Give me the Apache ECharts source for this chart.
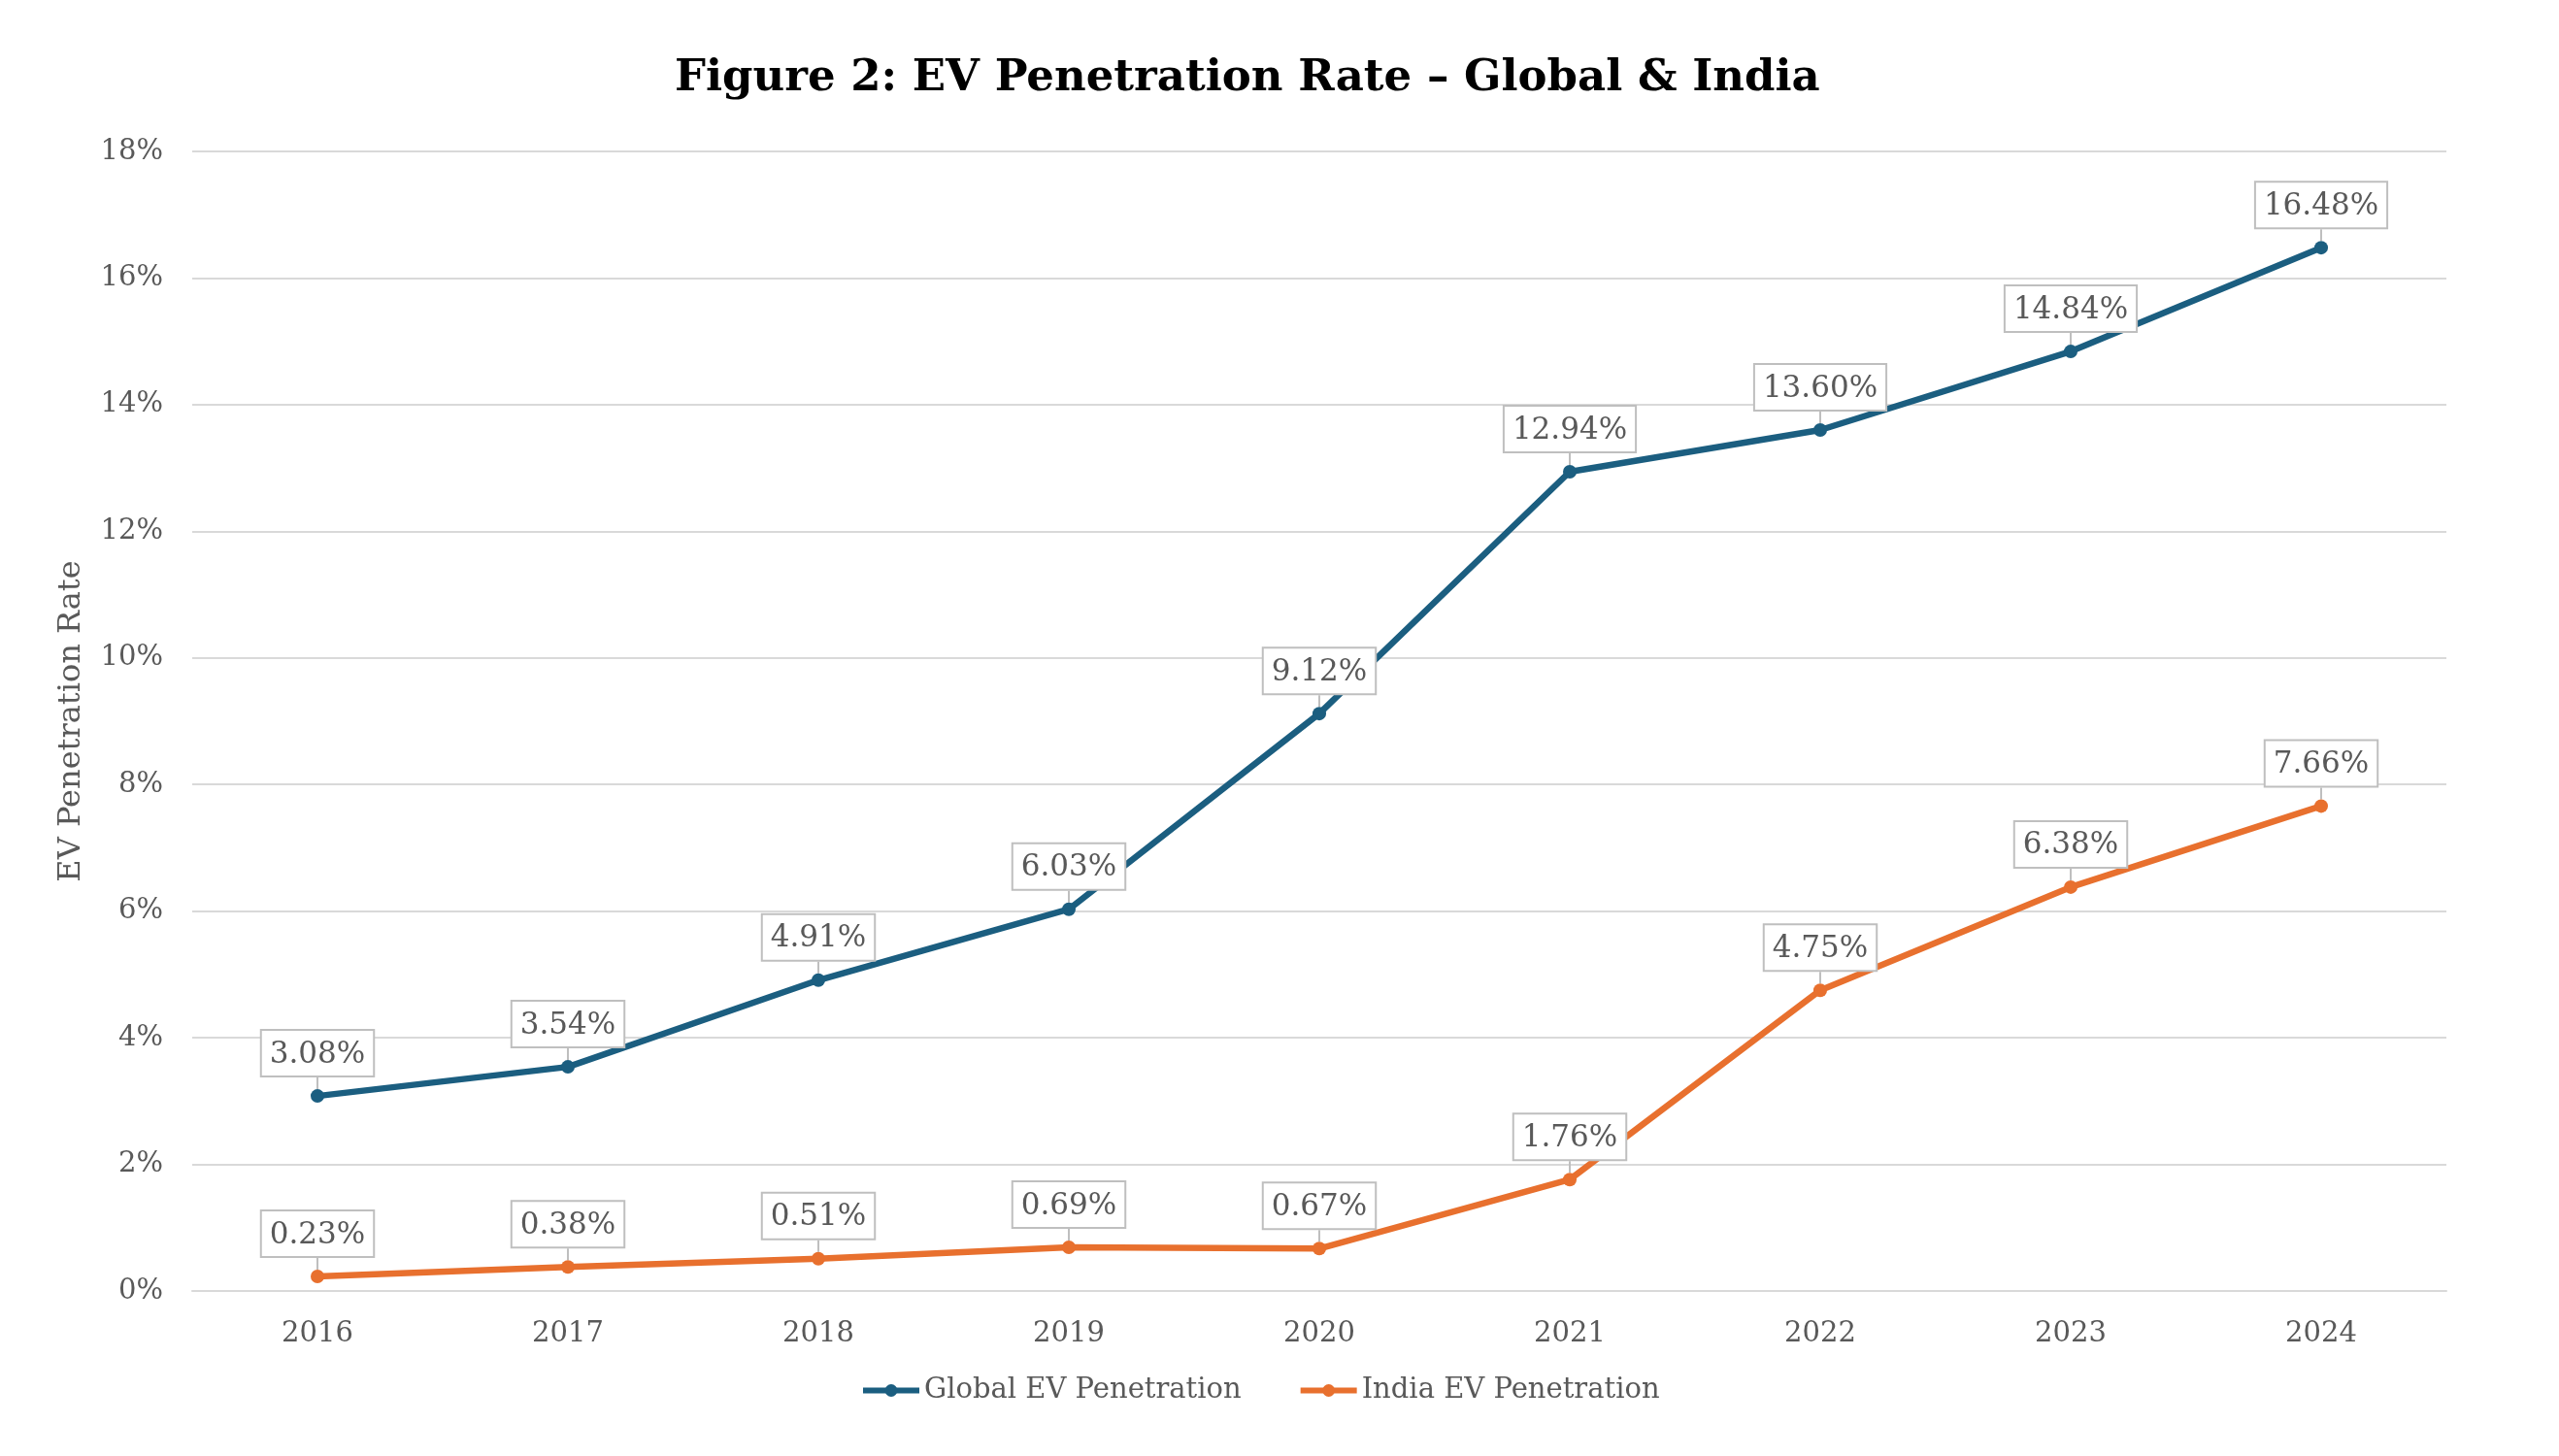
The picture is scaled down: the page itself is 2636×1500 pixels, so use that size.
<!DOCTYPE html>
<html>
<head>
<meta charset="utf-8">
<title>EV Penetration Rate</title>
<script src="https://cdn.jsdelivr.net/npm/echarts@6/dist/echarts.min.js"></script>
<style>
  html, body { margin: 0; padding: 0; background: #fff; }
  #main { width: 2636px; height: 1500px; }
</style>
</head>
<body>
<div id="main"></div>
<script>
var years = ['2016', '2017', '2018', '2019', '2020', '2021', '2022', '2023', '2024'];
var globalRate = [3.08, 3.54, 4.91, 6.03, 9.12, 12.94, 13.60, 14.84, 16.48];
var indiaRate = [0.23, 0.38, 0.51, 0.69, 0.67, 1.76, 4.75, 6.38, 7.66];

var FONT = 'DejaVu Serif';
var TEXT = '#595959';

var chart = echarts.init(document.getElementById('main'));

function pctLabel(p) {
  return p.value.toFixed(2) + '%';
}

// callout-ish label: white box, grey border, guide line down to the point
var calloutLabel = {
  show: true,
  position: 'top',
  distance: 4,
  formatter: pctLabel,
  fontFamily: FONT,
  fontSize: 31,
  color: TEXT,
  backgroundColor: '#fff',
  borderColor: '#bfbfbf',
  borderWidth: 2,
  padding: [9, 8, 6, 8]
};

var option = {
  backgroundColor: '#fff',
  animation: false,
  title: {
    text: 'Figure 2: EV Penetration Rate \u2013 Global & India',
    left: 690,
    top: 54,
    textStyle: {
      fontFamily: FONT,
      fontWeight: 'bold',
      fontSize: 45,
      color: '#000'
    }
  },
  color: ['#1b5e80', '#e8702e'],
  legend: {
    data: ['Global EV Penetration', 'India EV Penetration'],
    bottom: 48,
    left: 881,
    itemWidth: 58,
    itemHeight: 16,
    itemGap: 58,
    lineStyle: { width: 6 },
    textStyle: {
      fontFamily: FONT,
      fontSize: 29,
      color: TEXT
    }
  },
  grid: {
    left: 198,
    right: 116,
    top: 156,
    bottom: 170,
    containLabel: false
  },
  xAxis: {
    type: 'category',
    data: years,
    boundaryGap: true,
    axisLine: { show: true, lineStyle: { color: '#d9d9d9', width: 2 } },
    axisTick: { show: false },
    axisLabel: {
      margin: 30,
      fontFamily: FONT,
      fontSize: 29,
      color: TEXT
    }
  },
  yAxis: {
    type: 'value',
    min: 0,
    max: 18,
    interval: 2,
    name: 'EV Penetration Rate',
    nameLocation: 'middle',
    nameGap: 108,
    nameTextStyle: {
      fontFamily: FONT,
      fontSize: 32,
      color: TEXT
    },
    axisLine: { show: false },
    axisTick: { show: false },
    axisLabel: {
      margin: 30,
      formatter: '{value}%',
      fontFamily: FONT,
      fontSize: 29,
      color: TEXT
    },
    splitLine: {
      lineStyle: { color: '#d9d9d9', width: 2 }
    }
  },
  series: [{
    name: 'Global EV Penetration',
    type: 'line',
    data: globalRate,
    symbol: 'circle',
    symbolSize: 14,
    lineStyle: { width: 6.5 },
    label: calloutLabel,
    labelLayout: { dy: -10 },
    labelLine: { show: true, lineStyle: { color: '#bfbfbf', width: 2 } }
  }, {
    name: 'India EV Penetration',
    type: 'line',
    data: indiaRate,
    symbol: 'circle',
    symbolSize: 14,
    lineStyle: { width: 6.5 },
    label: calloutLabel,
    labelLayout: { dy: -10 },
    labelLine: { show: true, lineStyle: { color: '#bfbfbf', width: 2 } }
  }]
};

chart.setOption(option);
</script>
</body>
</html>
